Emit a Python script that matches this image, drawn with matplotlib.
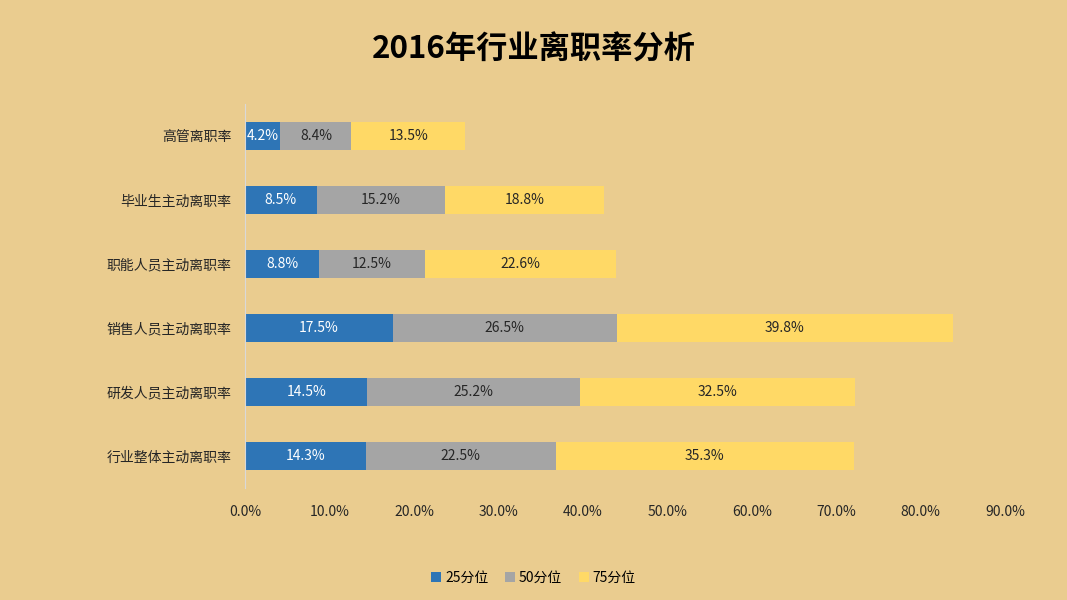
import matplotlib.pyplot as plt
from matplotlib.ticker import FuncFormatter

plt.rcParams['font.family'] = ['Noto Sans CJK SC', 'DejaVu Sans']

categories = ['高管离职率', '毕业生主动离职率', '职能人员主动离职率',
              '销售人员主动离职率', '研发人员主动离职率', '行业整体主动离职率']
p25 = [4.2, 8.5, 8.8, 17.5, 14.5, 14.3]
p50 = [8.4, 15.2, 12.5, 26.5, 25.2, 22.5]
p75 = [13.5, 18.8, 22.6, 39.8, 32.5, 35.3]
series_names = ['25分位', '50分位', '75分位']
colors = ['#2E75B6', '#A5A5A5', '#FFD966']
text_colors = ['white', '#262626', '#262626']
bg = '#EACC8F'


def main():
    fig = plt.figure(figsize=(10.67, 6), dpi=100, facecolor=bg)
    ax = fig.add_axes([0.2296, 0.1867, 0.7124, 0.6400])
    ax.set_facecolor('none')

    y = list(range(len(categories)))
    left = [0.0] * len(categories)
    for vals, name, c, tc in zip([p25, p50, p75], series_names, colors, text_colors):
        ax.barh(y, vals, left=left, height=0.44, color=c, label=name)
        for yi, l, v in zip(y, left, vals):
            ax.text(l + v / 2, yi, f'{v:.1f}%', ha='center', va='center',
                    fontsize=10, color=tc)
        left = [l + v for l, v in zip(left, vals)]

    ax.set_ylim(len(categories) - 0.5, -0.5)
    ax.set_xlim(0, 90)
    ax.set_xticks(range(0, 91, 10))
    ax.xaxis.set_major_formatter(FuncFormatter(lambda v, p: f'{v:.1f}%'))
    ax.set_yticks(y)
    ax.set_yticklabels(categories)
    ax.tick_params(axis='both', length=0, labelsize=10, colors='#262626')
    ax.tick_params(axis='x', pad=12)
    ax.tick_params(axis='y', pad=10)
    for s in ['top', 'right', 'bottom']:
        ax.spines[s].set_visible(False)
    ax.spines['left'].set_color('#D9D9D9')

    fig.text(0.5, 0.918, '2016年行业离职率分析', ha='center', va='center',
             fontsize=22.5, fontweight='heavy', color='black')
    fig.legend(loc='center', bbox_to_anchor=(0.5, 0.037), ncol=3, frameon=False,
               fontsize=10, handlelength=0.7, handleheight=0.7,
               handletextpad=0.3, columnspacing=1.2)

    fig.savefig('out.png', dpi=100, facecolor=bg)


if __name__ == "__main__":
    main()
